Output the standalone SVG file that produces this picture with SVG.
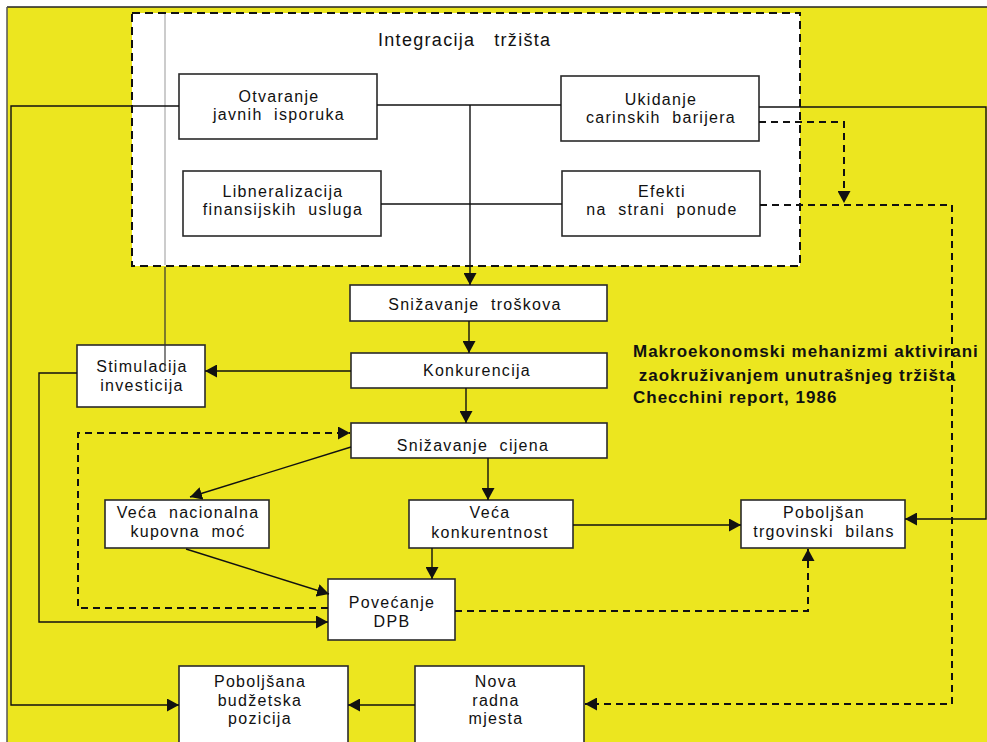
<svg xmlns="http://www.w3.org/2000/svg" width="987" height="742" viewBox="0 0 987 742">
<style>
  .box { fill: #ffffff; stroke: #2a2a2a; stroke-width: 1.6; }
  .t { font-family: "Liberation Sans", Arial, sans-serif; font-size: 16px; letter-spacing: 1.3px; fill: #111; text-anchor: middle; }
  .title { font-family: "Liberation Sans", Arial, sans-serif; font-size: 18px; letter-spacing: 1.3px; fill: #111; }
  .bold { font-family: "Liberation Sans", Arial, sans-serif; font-size: 17px; font-weight: bold; letter-spacing: 1px; fill: #111; }
  .c { fill: none; stroke: #111; stroke-width: 1.4; }
  .d { fill: none; stroke: #111; stroke-width: 2; stroke-dasharray: 7 5; }
</style>
<defs>
  <marker id="ah" markerUnits="userSpaceOnUse" markerWidth="13" markerHeight="13" refX="12" refY="6.5" orient="auto">
    <path d="M0,0 L12,6.5 L0,13 Z" fill="#111"/>
  </marker>
</defs>

<!-- background -->
<rect x="0" y="0" width="987" height="742" fill="#ffffff"/>
<rect x="7" y="7" width="985" height="740" fill="#ECE61F"/>
<line x1="7" y1="7" x2="987" y2="7" stroke="#222" stroke-width="1.5"/>
<line x1="7" y1="7" x2="7" y2="742" stroke="#555" stroke-width="1.5"/>

<!-- integration region -->
<g id="integracija">
  <rect x="132" y="13" width="668" height="253" fill="#ffffff" stroke="#111" stroke-width="2" stroke-dasharray="8 5"/>
  <text class="title" x="378" y="46">Integracija&#160;&#160; tržišta</text>
</g>

<g id="otvaranje">
  <rect class="box" x="179" y="74" width="198" height="65"/>
  <text class="t" x="279" y="102">Otvaranje</text>
  <text class="t" x="279" y="120">javnih&#160; isporuka</text>
</g>
<g id="libneralizacija">
  <rect class="box" x="183" y="171" width="198" height="65"/>
  <text class="t" x="283" y="197">Libneralizacija</text>
  <text class="t" x="283" y="215">finansijskih&#160; usluga</text>
</g>
<g id="ukidanje">
  <rect class="box" x="561" y="76" width="198" height="65"/>
  <text class="t" x="661" y="105">Ukidanje</text>
  <text class="t" x="661" y="123">carinskih&#160; barijera</text>
</g>
<g id="efekti">
  <rect class="box" x="562" y="171" width="198" height="65"/>
  <text class="t" x="662" y="197">Efekti</text>
  <text class="t" x="662" y="215">na&#160; strani&#160; ponude</text>
</g>

<g id="snizavanje-troskova">
  <rect class="box" x="350" y="285" width="257" height="36"/>
  <text class="t" x="475" y="310">Snižavanje&#160; troškova</text>
</g>
<g id="konkurencija">
  <rect class="box" x="351" y="353" width="256" height="35"/>
  <text class="t" x="477" y="376">Konkurencija</text>
</g>
<g id="snizavanje-cijena">
  <rect class="box" x="351" y="423" width="256" height="35"/>
  <text class="t" x="473" y="451">Snižavanje&#160; cijena</text>
</g>
<g id="stimulacija">
  <rect class="box" x="77" y="345" width="128" height="62"/>
  <text class="t" x="142" y="372">Stimulacija</text>
  <text class="t" x="142" y="391">investicija</text>
</g>
<g id="veca-nacionalna">
  <rect class="box" x="105" y="500" width="164" height="48"/>
  <text class="t" x="188" y="518">Veća&#160; nacionalna</text>
  <text class="t" x="188" y="537">kupovna&#160; moć</text>
</g>
<g id="veca-konkurentnost">
  <rect class="box" x="409" y="500" width="164" height="48"/>
  <text class="t" x="490" y="518">Veća</text>
  <text class="t" x="490" y="538">konkurentnost</text>
</g>
<g id="poboljsan-bilans">
  <rect class="box" x="741" y="500" width="164" height="48"/>
  <text class="t" x="824" y="518">Poboljšan</text>
  <text class="t" x="824" y="537">trgovinski&#160; bilans</text>
</g>
<g id="povecanje-dpb">
  <rect class="box" x="328" y="579" width="127" height="61"/>
  <text class="t" x="392" y="608">Povećanje</text>
  <text class="t" x="392" y="627">DPB</text>
</g>
<g id="poboljsana-budzetska">
  <rect class="box" x="179" y="666" width="169" height="80"/>
  <text class="t" x="260" y="687">Poboljšana</text>
  <text class="t" x="260" y="706">budžetska</text>
  <text class="t" x="260" y="724">pozicija</text>
</g>
<g id="nova-radna-mjesta">
  <rect class="box" x="415" y="666" width="169" height="80"/>
  <text class="t" x="496" y="687">Nova</text>
  <text class="t" x="496" y="706">radna</text>
  <text class="t" x="496" y="724">mjesta</text>
</g>

<g id="naslov">
  <text class="bold" x="633" y="357">Makroekonomski mehanizmi aktivirani</text>
  <text class="bold" x="633" y="381">&#160;zaokruživanjem unutrašnjeg tržišta</text>
  <text class="bold" x="633" y="403">Checchini report, 1986</text>
</g>

<g id="connectors">
  <!-- solid -->
  <line class="c" x1="377" y1="105" x2="561" y2="105"/>
  <line class="c" x1="381" y1="204" x2="562" y2="204"/>
  <line class="c" x1="470" y1="105" x2="470" y2="285" marker-end="url(#ah)"/>
  <line class="c" x1="469" y1="321" x2="469" y2="353" marker-end="url(#ah)"/>
  <line class="c" x1="466" y1="388" x2="466" y2="423" marker-end="url(#ah)"/>
  <line class="c" x1="351" y1="371" x2="205" y2="371" marker-end="url(#ah)"/>
  <line x1="165" y1="14" x2="165" y2="265" stroke="#aaa" stroke-width="1.2"/>
  <line x1="165" y1="267" x2="165" y2="370" stroke="#333" stroke-width="1.2"/>
  <polyline class="c" points="77,373 39,373 39,622 328,622" marker-end="url(#ah)"/>
  <polyline class="c" points="179,106 11,106 11,705 179,705" marker-end="url(#ah)"/>
  <polyline class="c" points="759,107 986,107 986,519 905,519" marker-end="url(#ah)"/>
  <line class="c" x1="351" y1="447" x2="190" y2="497" marker-end="url(#ah)"/>
  <line class="c" x1="186" y1="549" x2="329" y2="594" marker-end="url(#ah)"/>
  <line class="c" x1="488" y1="458" x2="488" y2="500" marker-end="url(#ah)"/>
  <line class="c" x1="432" y1="548" x2="432" y2="579" marker-end="url(#ah)"/>
  <line class="c" x1="573" y1="525" x2="741" y2="525" marker-end="url(#ah)"/>
  <line class="c" x1="415" y1="705" x2="348" y2="705" marker-end="url(#ah)"/>
  <!-- dashed -->
  <polyline class="d" points="759,122 844,122 844,203" marker-end="url(#ah)"/>
  <polyline class="d" points="760,205 952,205 952,704 585,704" marker-end="url(#ah)"/>
  <polyline class="d" points="328,608 78,608 78,433 350,433" marker-end="url(#ah)"/>
  <polyline class="d" points="455,611 808,611 808,549" marker-end="url(#ah)"/>
</g>
</svg>
